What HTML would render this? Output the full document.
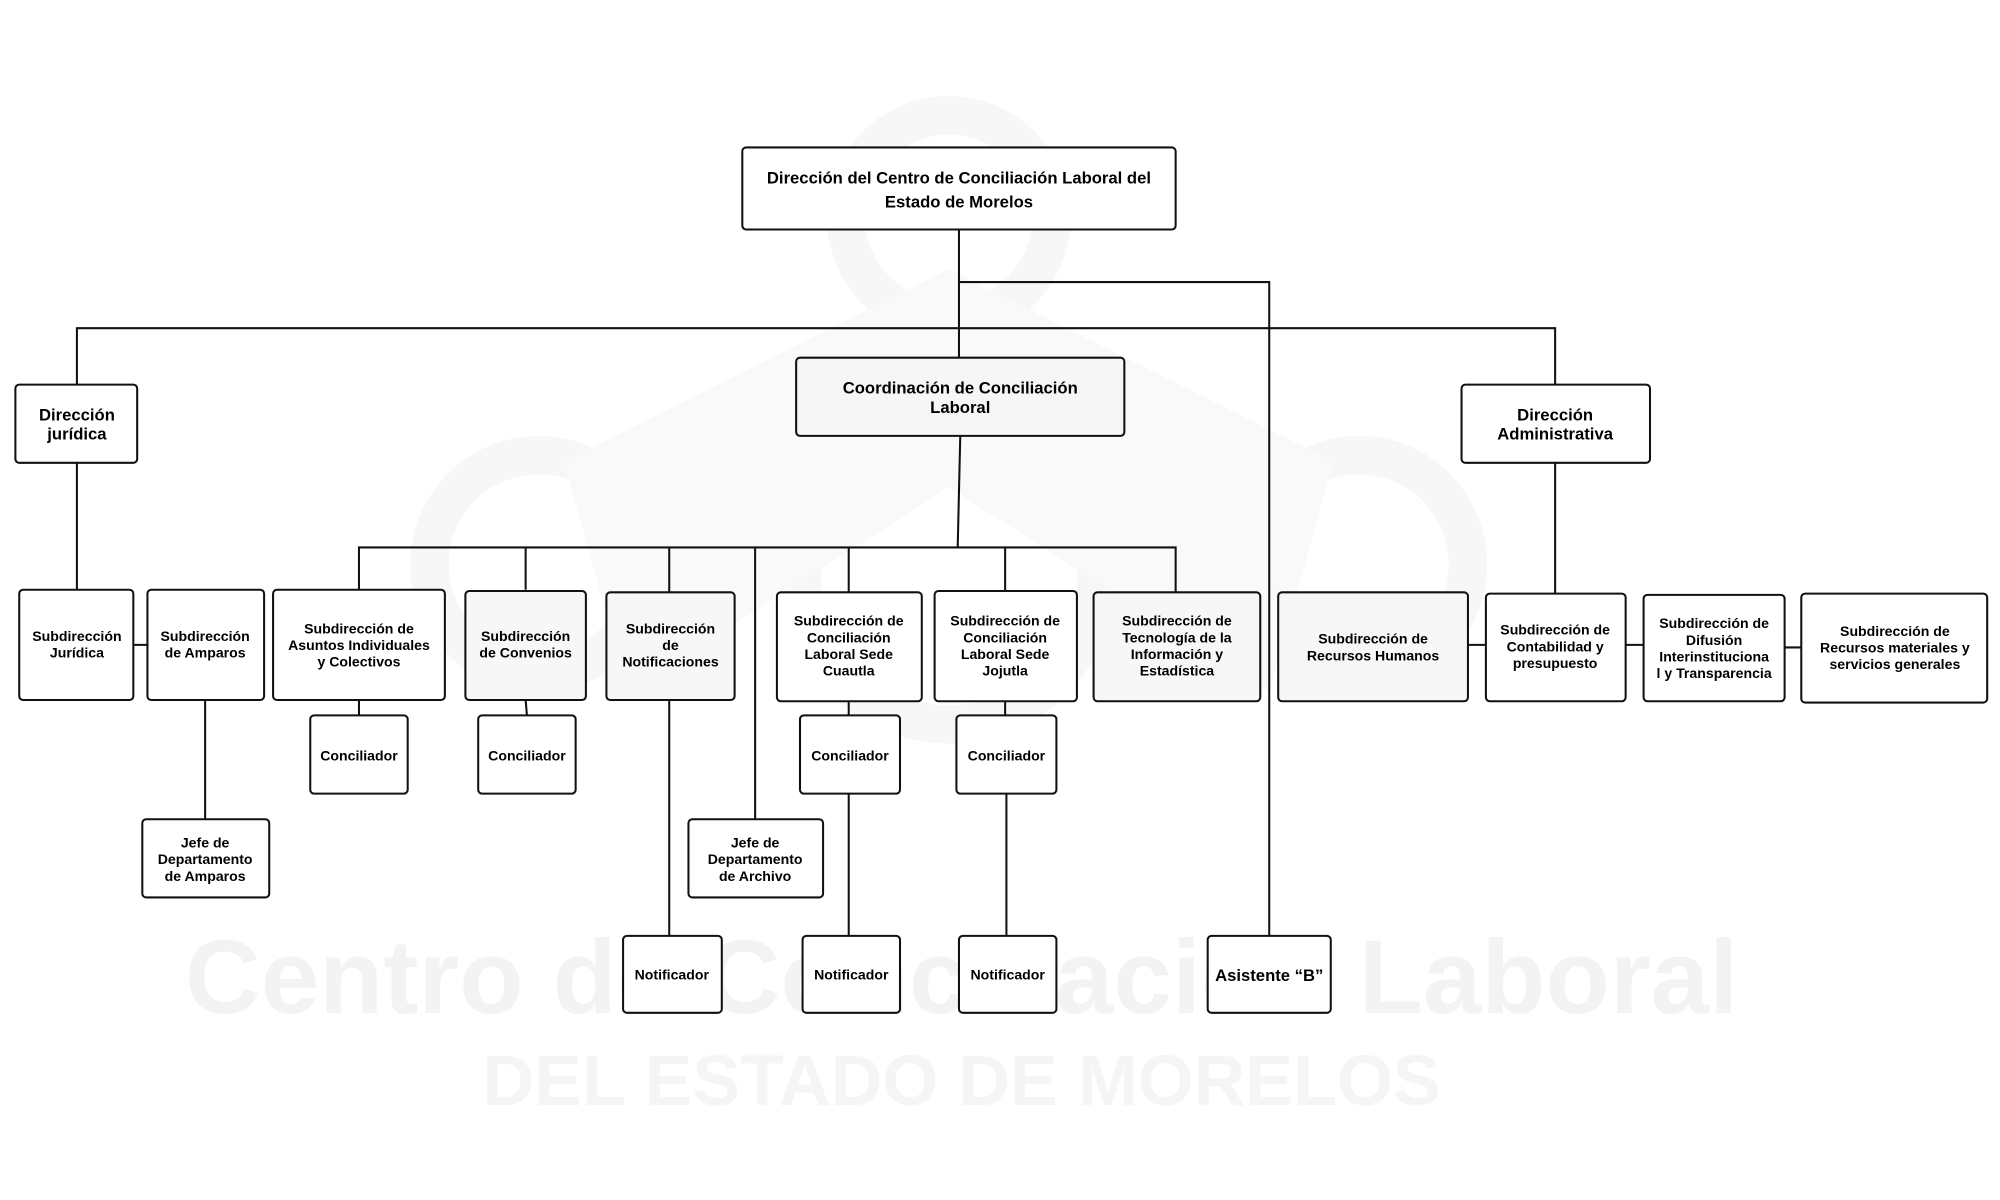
<!DOCTYPE html>
<html><head><meta charset="utf-8"><style>
html,body{margin:0;padding:0;background:#fff;}
svg{display:block;}
text{font-family:"Liberation Sans",sans-serif;font-weight:bold;fill:#000;text-anchor:middle;}
</style></head><body>
<svg width="2000" height="1200" viewBox="0 0 1560 936" xmlns="http://www.w3.org/2000/svg">
<!-- watermark -->
<g fill="none" stroke="#f7f7f7" stroke-width="30">
<circle cx="740" cy="170" r="80"/>
<circle cx="420" cy="440" r="85"/>
<circle cx="1060" cy="440" r="85"/>
<circle cx="740" cy="450" r="115"/>
</g>
<g fill="#f9f9f9">
<path d="M740 210 L1040 360 L990 540 L740 380 L490 540 L440 360 Z"/>
</g>
<text x="750" y="790" style="font-size:82px;fill:#f3f3f3;font-weight:bold">Centro de Conciliación Laboral</text>
<text x="750" y="862" style="font-size:56px;fill:#f5f5f5;font-weight:bold">DEL ESTADO DE MORELOS</text>

<!-- connectors -->
<g stroke="#111" stroke-width="1.6" fill="none">
<path d="M748 179V279M748 220H990V730M60 300V256H1213V300"/>
<path d="M60 361V460M104 503H115M160 546V639"/>
<path d="M749 340L747 427M280 460V427H917V462M410 427V460M522 427V462M589 427V639M662 427V462M784 427V462"/>
<path d="M280 546V558M410 546L411 558M522 546V730M662 547V558M662 619V730M784 547V558M785 619V730"/>
<path d="M1213 361V463M1145 503H1159M1268 503H1282M1392 505H1405"/>
</g>

<!-- boxes -->
<g stroke="#111" stroke-width="1.6" fill="#fff">
<rect x="579" y="115" width="338" height="64" rx="3"/>
<rect x="621" y="279" width="256" height="61" rx="3" fill="#f6f6f6"/>
<rect x="12" y="300" width="95" height="61" rx="3"/>
<rect x="1140" y="300" width="147" height="61" rx="3"/>
<rect x="15" y="460" width="89" height="86" rx="3"/>
<rect x="115" y="460" width="91" height="86" rx="3"/>
<rect x="213" y="460" width="134" height="86" rx="3"/>
<rect x="363" y="461" width="94" height="85" rx="3" fill="#f7f7f7"/>
<rect x="473" y="462" width="100" height="84" rx="3" fill="#f7f7f7"/>
<rect x="606" y="462" width="113" height="85" rx="3"/>
<rect x="729" y="461" width="111" height="86" rx="3"/>
<rect x="853" y="462" width="130" height="85" rx="3" fill="#f7f7f7"/>
<rect x="997" y="462" width="148" height="85" rx="3" fill="#f7f7f7"/>
<rect x="1159" y="463" width="109" height="84" rx="3"/>
<rect x="1282" y="464" width="110" height="83" rx="3"/>
<rect x="1405" y="463" width="145" height="85" rx="3"/>
<rect x="242" y="558" width="76" height="61" rx="3"/>
<rect x="373" y="558" width="76" height="61" rx="3"/>
<rect x="624" y="558" width="78" height="61" rx="3"/>
<rect x="746" y="558" width="78" height="61" rx="3"/>
<rect x="111" y="639" width="99" height="61" rx="3"/>
<rect x="537" y="639" width="105" height="61" rx="3"/>
<rect x="486" y="730" width="77" height="60" rx="3"/>
<rect x="626" y="730" width="76" height="60" rx="3"/>
<rect x="748" y="730" width="76" height="60" rx="3"/>
<rect x="942" y="730" width="96" height="60" rx="3"/>
</g>

<!-- labels -->
<g style="font-size:13px">
<text x="748" y="143">Dirección del Centro de Conciliación Laboral del</text>
<text x="748" y="162">Estado de Morelos</text>
<text x="749" y="307">Coordinación de Conciliación</text>
<text x="749" y="322">Laboral</text>
<text x="60" y="328">Dirección</text>
<text x="60" y="343">jurídica</text>
<text x="1213" y="328">Dirección</text>
<text x="1213" y="343">Administrativa</text>
<text x="990" y="765">Asistente “B”</text>
</g>
<g style="font-size:11px">
<text x="60" y="500">Subdirección</text><text x="60" y="513">Jurídica</text>
<text x="160" y="500">Subdirección</text><text x="160" y="513">de Amparos</text>
<text x="280" y="494">Subdirección de</text><text x="280" y="507">Asuntos Individuales</text><text x="280" y="520">y Colectivos</text>
<text x="410" y="500">Subdirección</text><text x="410" y="513">de Convenios</text>
<text x="523" y="494">Subdirección</text><text x="523" y="507">de</text><text x="523" y="520">Notificaciones</text>
<text x="662" y="488">Subdirección de</text><text x="662" y="501">Conciliación</text><text x="662" y="514">Laboral Sede</text><text x="662" y="527">Cuautla</text>
<text x="784" y="488">Subdirección de</text><text x="784" y="501">Conciliación</text><text x="784" y="514">Laboral Sede</text><text x="784" y="527">Jojutla</text>
<text x="918" y="488">Subdirección de</text><text x="918" y="501">Tecnología de la</text><text x="918" y="514">Información y</text><text x="918" y="527">Estadística</text>
<text x="1071" y="502">Subdirección de</text><text x="1071" y="515">Recursos Humanos</text>
<text x="1213" y="495">Subdirección de</text><text x="1213" y="508">Contabilidad y</text><text x="1213" y="521">presupuesto</text>
<text x="1337" y="490">Subdirección de</text><text x="1337" y="503">Difusión</text><text x="1337" y="516">Interinstituciona</text><text x="1337" y="529">l y Transparencia</text>
<text x="1478" y="496">Subdirección de</text><text x="1478" y="509">Recursos materiales y</text><text x="1478" y="522">servicios generales</text>
<text x="280" y="593">Conciliador</text>
<text x="411" y="593">Conciliador</text>
<text x="663" y="593">Conciliador</text>
<text x="785" y="593">Conciliador</text>
<text x="160" y="661">Jefe de</text><text x="160" y="674">Departamento</text><text x="160" y="687">de Amparos</text>
<text x="589" y="661">Jefe de</text><text x="589" y="674">Departamento</text><text x="589" y="687">de Archivo</text>
<text x="524" y="764">Notificador</text>
<text x="664" y="764">Notificador</text>
<text x="786" y="764">Notificador</text>
</g>
</svg>
</body></html>
